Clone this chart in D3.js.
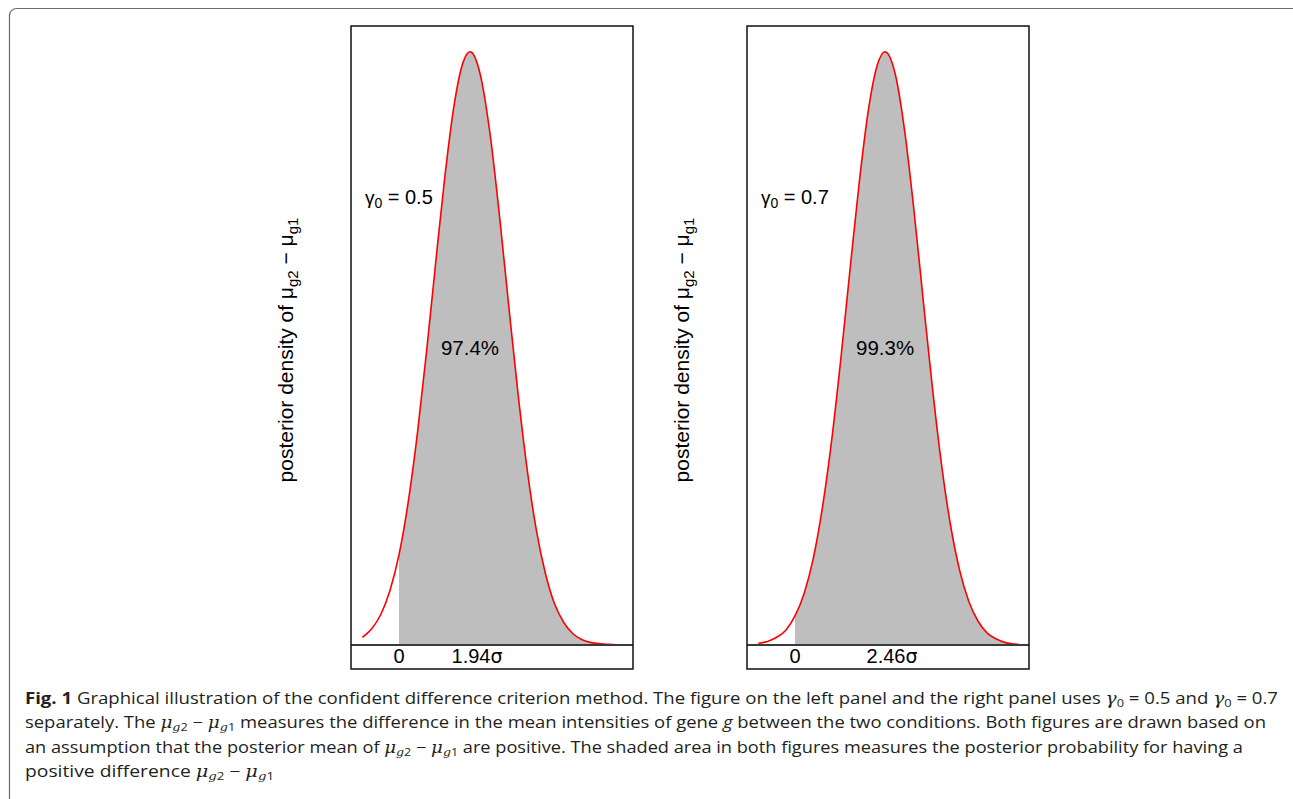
<!DOCTYPE html>
<html>
<head>
<meta charset="utf-8">
<script src="https://cdn.jsdelivr.net/npm/d3@7"></script>
<style>
  html, body { margin: 0; padding: 0; background: #fff; }
  svg { display: block; }
</style>
</head>
<body>
<svg id="chart" width="1293" height="799"></svg>
<script>
// ---------------- data ----------------
const panelGamma   = [0.5, 0.7];
const panelMean    = [1.94, 2.46];          // posterior mean in sigma units
const panelPercent = ["97.4%", "99.3%"];
const meanLabels   = ["1.94", "2.46"];
const zeroLabel    = "0";

const curveXLeft  = [-1.0,-0.75,-0.5,-0.25,0,0.25,0.5,0.75,1.0,1.25,1.5,1.75,1.94,2.0,2.25,2.5,2.75,3.0,3.25,3.5,3.75,4.0,4.25,4.5,4.75,5.0,5.25,5.5,5.75,6.1];
const curveYLeft  = [0.013,0.027,0.051,0.091,0.152,0.240,0.355,0.493,0.643,0.788,0.908,0.982,1.000,0.998,0.953,0.855,0.720,0.570,0.424,0.296,0.194,0.120,0.069,0.038,0.019,0.009,0.004,0.002,0.001,0.000];
const curveXRight = [-1.0,-0.75,-0.5,-0.25,0,0.25,0.5,0.75,1.0,1.25,1.5,1.75,2.0,2.25,2.46,2.5,2.75,3.0,3.25,3.5,3.75,4.0,4.25,4.5,4.75,5.0,5.25,5.5,5.75,6.1];
const curveYRight = [0.003,0.006,0.013,0.025,0.049,0.087,0.146,0.232,0.344,0.481,0.631,0.777,0.900,0.978,1.000,0.999,0.959,0.864,0.732,0.582,0.435,0.305,0.201,0.125,0.073,0.040,0.020,0.010,0.004,0.001];

const curvesX = [curveXLeft, curveXRight];
const curvesY = [curveYLeft, curveYRight];

// ---------------- layout ----------------
const svg = d3.select("#chart");
const panelLefts = [351, 747];
const panelTop = 26, panelW = 282, panelH = 643;
const xDomain = [-1.31, 6.39];

const fontChart = "'Liberation Sans', Arial, Helvetica, sans-serif";

// outer frame
svg.append("rect")
  .attr("x", 9.5).attr("y", 8.5)
  .attr("width", 1290).attr("height", 820)
  .attr("rx", 7).attr("ry", 7)
  .attr("fill", "none").attr("stroke", "#6b6b6b").attr("stroke-width", 1.2);

panelLefts.forEach((left, i) => {
  const g = svg.append("g").attr("transform", `translate(${left},${panelTop})`);
  const x = d3.scaleLinear().domain(xDomain).range([0, panelW]);
  const y = d3.scaleLinear().domain([0, 1]).range([619, 25.7]);

  const pts = curvesX[i].map((v, k) => ({x: v, y: curvesY[i][k]}));

  const clipId = "clip" + i;
  g.append("clipPath").attr("id", clipId)
    .append("rect")
    .attr("x", x(0)).attr("y", 0)
    .attr("width", panelW - x(0)).attr("height", panelH);

  const area = d3.area()
    .x(d => x(d.x)).y0(y(0)).y1(d => y(d.y))
    .curve(d3.curveMonotoneX);
  g.append("path")
    .attr("d", area(pts))
    .attr("fill", "#bebebe")
    .attr("clip-path", `url(#${clipId})`);

  const line = d3.line().x(d => x(d.x)).y(d => y(d.y)).curve(d3.curveMonotoneX);
  g.append("path")
    .attr("d", line(pts))
    .attr("fill", "none").attr("stroke", "#ff0000").attr("stroke-width", 1.6);

  // baseline (density zero)
  g.append("line")
    .attr("x1", 0).attr("x2", panelW)
    .attr("y1", y(0)).attr("y2", y(0))
    .attr("stroke", "#3a3a3a").attr("stroke-width", 2);

  // box
  g.append("rect")
    .attr("x", 0).attr("y", 0).attr("width", panelW).attr("height", panelH)
    .attr("fill", "none").attr("stroke", "#111").attr("stroke-width", 1.5);

  // tick labels below baseline
  g.append("text")
    .attr("x", x(0)).attr("y", 637)
    .attr("text-anchor", "middle")
    .attr("font-family", fontChart).attr("font-size", 20)
    .text(zeroLabel);
  const ml = g.append("text")
    .attr("x", x(panelMean[i])).attr("dx", 7).attr("y", 637)
    .attr("text-anchor", "middle")
    .attr("font-family", fontChart).attr("font-size", 20);
  ml.append("tspan").text(meanLabels[i]);
  ml.append("tspan").attr("font-family", "'DejaVu Sans', sans-serif").attr("font-size", 19).text("σ");

  // gamma label
  const gl = g.append("text")
    .attr("x", x(-0.93)).attr("y", y(0.743))
    .attr("font-family", fontChart).attr("font-size", 20);
  gl.append("tspan").attr("font-size", 19).text("γ");
  gl.append("tspan").attr("font-size", 14).attr("dy", 4).text("0");
  gl.append("tspan").attr("dy", -4).text(" = " + panelGamma[i]);

  // percent label
  g.append("text")
    .attr("x", x(panelMean[i])).attr("y", y(0.489))
    .attr("text-anchor", "middle")
    .attr("font-family", fontChart).attr("font-size", 20.5)
    .text(panelPercent[i]);

  // y axis title
  const yt = svg.append("text")
    .attr("transform", `translate(${left - 58},350) rotate(-90)`)
    .attr("text-anchor", "middle")
    .attr("font-family", fontChart).attr("font-size", 21);
  yt.append("tspan").text("posterior density of μ");
  yt.append("tspan").attr("font-size", 15).attr("dy", 5).text("g2");
  yt.append("tspan").attr("dy", -5).text(" − μ");
  yt.append("tspan").attr("font-size", 15).attr("dy", 5).text("g1");
});

// ---------------- caption ----------------
const capFont = "'Open Sans', 'Noto Sans', sans-serif";
const mathFont = "'DejaVu Serif', 'Liberation Serif', serif";
const capLines = [
  {y: 703.5, len: 1253},
  {y: 728, len: 1241},
  {y: 752.5, len: 1218},
  {y: 777, len: 249}
];
function capText(k) {
  return svg.append("text")
    .attr("x", 25).attr("y", capLines[k].y)
    .attr("textLength", capLines[k].len)
    .attr("lengthAdjust", "spacingAndGlyphs")
    .attr("font-family", capFont).attr("font-size", 16)
    .attr("fill", "#231f20");
}
// appends μ_{g<sub>}; the following tspan must carry dy=-3 to return to baseline
function mu(t, sub) {
  t.append("tspan").attr("font-family", mathFont).attr("font-style", "italic").text("μ");
  t.append("tspan").attr("font-size", 11).attr("dy", 3)
    .attr("font-family", mathFont).attr("font-style", "italic").text("g");
  t.append("tspan").attr("font-size", 11).text(sub);
}
function muDiff(t) {
  mu(t, "2");
  t.append("tspan").attr("dy", -3).text(" − ");
  mu(t, "1");
}
function gam(t, v) {
  t.append("tspan").attr("font-family", mathFont).attr("font-style", "italic").text("γ");
  t.append("tspan").attr("font-size", 11).attr("dy", 3).text("0");
  t.append("tspan").attr("dy", -3).text(" = " + v);
}
let t1 = capText(0);
t1.append("tspan").attr("font-weight", "bold").text("Fig. 1");
t1.append("tspan").text(" Graphical illustration of the confident difference criterion method. The figure on the left panel and the right panel uses ");
gam(t1, "0.5");
t1.append("tspan").text(" and ");
gam(t1, "0.7");

let t2 = capText(1);
t2.append("tspan").text("separately. The ");
muDiff(t2);
t2.append("tspan").attr("dy", -3).text(" measures the difference in the mean intensities of gene ");
t2.append("tspan").attr("font-style", "italic").text("g");
t2.append("tspan").text(" between the two conditions. Both figures are drawn based on");

let t3 = capText(2);
t3.append("tspan").text("an assumption that the posterior mean of ");
muDiff(t3);
t3.append("tspan").attr("dy", -3).text(" are positive. The shaded area in both figures measures the posterior probability for having a");

let t4 = capText(3);
t4.append("tspan").text("positive difference ");
muDiff(t4);
</script>
</body>
</html>
